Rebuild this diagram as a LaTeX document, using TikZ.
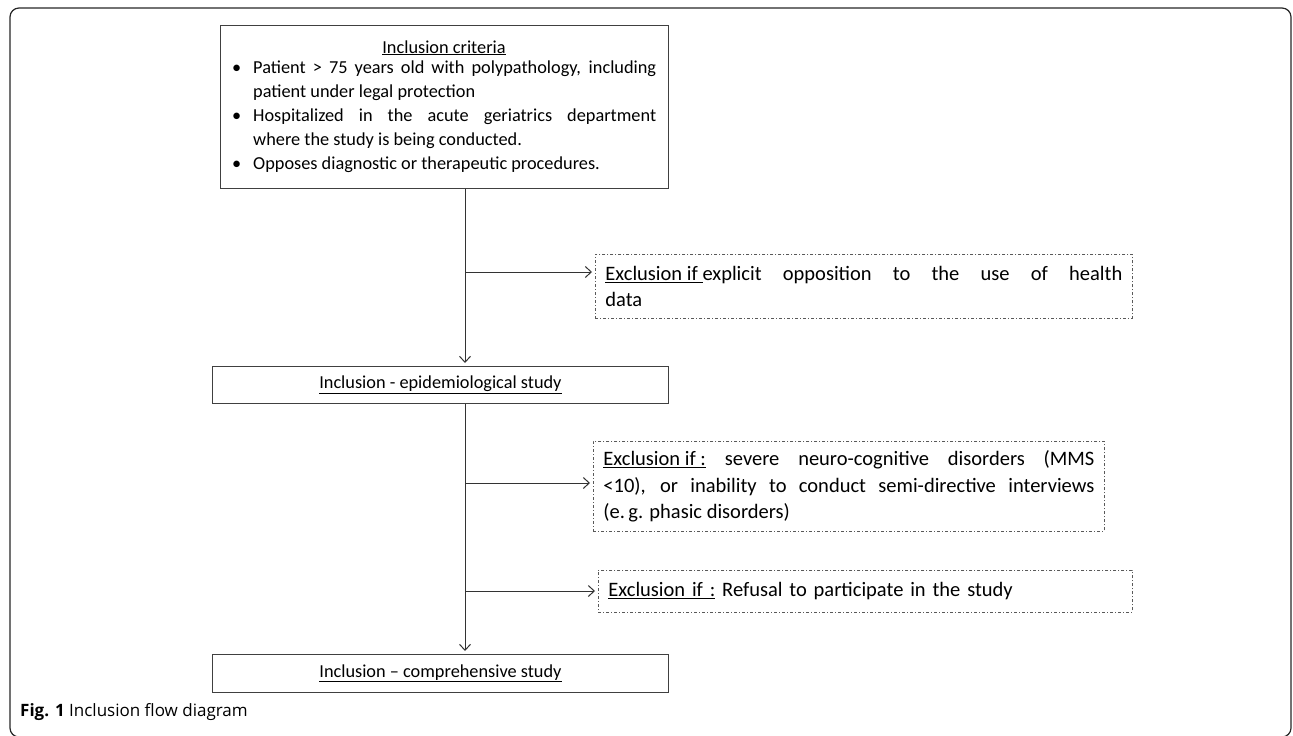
\documentclass[tikz,border=0pt]{standalone}
\usepackage{fontspec}
\setmainfont{Carlito}
\newfontfamily\capfont{Open Sans}
\usetikzlibrary{positioning,calc,arrows.meta}

\newcommand{\critem}[1]{\noindent\hangindent=21pt\hangafter=1\makebox[21pt][l]{\textbullet}#1\par}

\tikzset{
  boxfont/.style={font=\fontsize{18.3}{24}\selectfont},
  exclfont/.style={font=\fontsize{20.5}{26.5}\selectfont},
  critbox/.style={draw=black!75, line width=0.9pt, boxfont, inner sep=0pt, align=center},
  exclbox/.style={draw=black!65, line width=0.8pt, dash pattern=on 3pt off 2pt on 1pt off 2pt,
    exclfont, inner xsep=10pt, inner ysep=0pt, anchor=north west},
  flow/.style={draw=black!80, line width=1pt},
  arr/.style={flow, -{Straight Barb[length=6pt,width=11pt]}, shorten >=3pt}
}

\begin{document}
\begin{tikzpicture}[x=1pt,y=-1pt]
\useasboundingbox (0,0) rectangle (1293,736);
% outer frame
\draw[black!85, line width=1.2pt, rounded corners=9pt] (10,8) rectangle (1291,737);

% main column
\node[critbox, minimum width=448pt, minimum height=163pt, anchor=north west] (crit) at (220,25) {};
\node[boxfont, anchor=base] (crittitle) at (444,53) {\underline{Inclusion criteria}};
\node[boxfont, anchor=north west, inner sep=0pt, text width=424pt, align=justify] (critlist) at (232,61) {%
  \fontsize{18.3}{24}\selectfont
  \critem{Patient > 75 years old with polypathology, including\linebreak patient under legal protection}
  \critem{Hospitalized in the acute geriatrics department\linebreak where the study is being conducted.}
  \critem{Opposes diagnostic or therapeutic procedures.}};

\node[critbox, minimum width=456pt, minimum height=37pt, anchor=north west] (epid) at (212,366)
  {\underline{Inclusion - epidemiological study}};
\node[critbox, minimum width=456pt, minimum height=38pt, anchor=north west] (compr) at (212,654)
  {\underline{Inclusion -- comprehensive study}};

% exclusion boxes
\node[exclbox, text width=517pt, minimum height=64pt, align=justify] (exclA) at (595,254)
  {\underline{Exclusion if }explicit opposition to the use of health\linebreak data};
\node[exclbox, text width=491pt, minimum height=90pt, align=justify] (exclB) at (593,441)
  {\fontsize{20.5}{27.5}\selectfont\underline{Exclusion if :} severe neuro-cognitive disorders (MMS\linebreak
   <10), or inability to conduct semi-directive interviews\linebreak (e.\,g. phasic disorders)};
\node[exclbox, text width=514pt, minimum height=42pt, align=left] (exclC) at (598,570)
  {\underline{Exclusion if :} Refusal to participate in the study};

% trunk and branches
\coordinate (trunk) at (465,0);
\coordinate (brA) at (465,272);
\coordinate (brB) at (465,483);
\coordinate (brC) at (465,591);
\draw[arr] (crit.south -| trunk) -- (epid.north -| trunk);
\draw[arr] (epid.south -| trunk) -- (compr.north -| trunk);
\draw[arr] (brA) -- (brA -| exclA.west);
\draw[arr] (brB) -- (brB -| exclB.west);
\draw[arr] (brC) -- (brC -| exclC.west);

% caption
\node[anchor=west, inner sep=0pt, font=\capfont\fontsize{17}{20}\selectfont] (caption) at (20,712)
  {\textbf{Fig. 1} Inclusion flow diagram};
\end{tikzpicture}
\end{document}
